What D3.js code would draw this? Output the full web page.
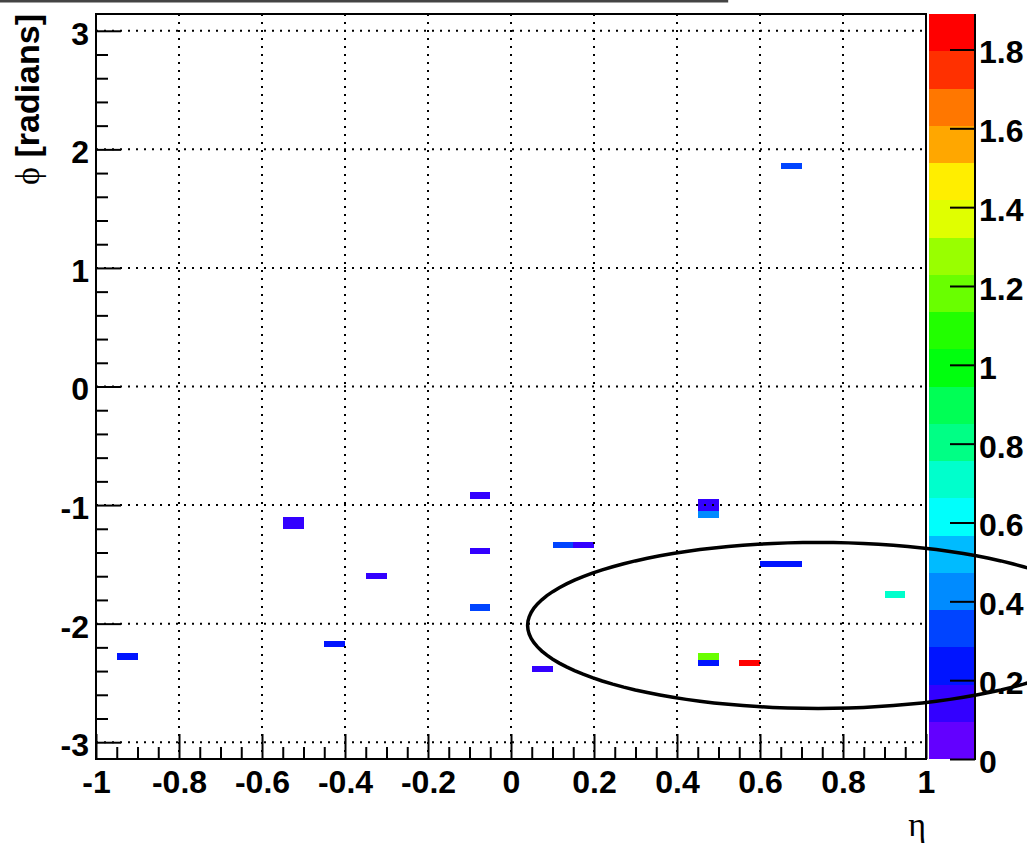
<!DOCTYPE html>
<html>
<head>
<meta charset="utf-8">
<script src="https://cdn.jsdelivr.net/npm/d3@7"></script>
<style>
  body { margin: 0; background: #fff; }
  svg { display: block; }
</style>
</head>
<body>
<svg id="chart" width="1036" height="849"></svg>
<script>
// Calorimeter cell energies in the eta-phi plane, with a jet cone of radius 0.7.
const etaTicks = [-1, -0.8, -0.6, -0.4, -0.2, 0, 0.2, 0.4, 0.6, 0.8, 1];
const etaTickLabels = ["-1", "-0.8", "-0.6", "-0.4", "-0.2", "0", "0.2", "0.4", "0.6", "0.8", "1"];
const phiTicks = [-3, -2, -1, 0, 1, 2, 3];
const phiTickLabels = ["-3", "-2", "-1", "0", "1", "2", "3"];
const zTicks = [0, 0.2, 0.4, 0.6, 0.8, 1, 1.2, 1.4, 1.6, 1.8];
const zTickLabels = ["0", "0.2", "0.4", "0.6", "0.8", "1", "1.2", "1.4", "1.6", "1.8"];

// Cell centres (eta, phi), phi extent of each cell and deposited value
const etaBinWidth = 0.05;
const cellEta  = [-0.925, -0.525, -0.425, -0.325, -0.075, -0.075, -0.075, 0.075, 0.125, 0.175,
                  0.475, 0.475, 0.475, 0.475, 0.575, 0.625, 0.675, 0.675, 0.925];
const cellPhi  = [-2.277, -1.151, -2.172, -1.598, -0.919, -1.387, -1.864, -2.383, -1.337, -1.337,
                  -0.9995, -1.0795, -2.277, -2.332, -2.332, -1.497, -1.497, 1.860, -1.754];
const cellDPhi = [0.055, 0.10, 0.055, 0.055, 0.055, 0.055, 0.055, 0.055, 0.055, 0.055,
                  0.10, 0.059, 0.055, 0.055, 0.055, 0.055, 0.055, 0.055, 0.055];
const cellE    = [0.24, 0.14, 0.23, 0.15, 0.13, 0.14, 0.34, 0.15, 0.32, 0.16,
                  0.17, 0.44, 1.17, 0.22, 1.89, 0.24, 0.25, 0.36, 0.72];

// Jet cone
const coneEta = 0.74;
const conePhi = -2.015;
const coneR = 0.7;

const nContours = 20;
const zMax = d3.max(cellE);

const svg = d3.select("#chart");
svg.append("rect").attr("width", 1036).attr("height", 849).attr("fill", "#fff");

const x = d3.scaleLinear().domain([-1, 1]).range([96, 926]);
const y = d3.scaleLinear().domain([-Math.PI, Math.PI]).range([759, 14]);
const z = d3.scaleLinear().domain([0, zMax]).range([759, 14]);

// Spectrum palette violet -> red, one colour per contour band
function bandColor(i) {
  const idx = Math.floor((i + 0.99) * 50 / nContours);
  const hue = 280 - (idx + 1) * 5.6;
  return d3.hsl(hue, 1, 0.5).formatHex();
}
function valueColor(v) {
  const band = Math.min(nContours - 1, Math.floor(v / (zMax / nContours)));
  return bandColor(band);
}

const labelFont = "'Liberation Sans', Arial, Helvetica, sans-serif";

// Title box remnant at the top edge
svg.append("path")
  .attr("d", "M0,1.2H727V0")
  .attr("fill", "none").attr("stroke", "#444").attr("stroke-width", 2.4);

// Cells
svg.append("clipPath").attr("id", "frameClip")
  .append("rect").attr("x", 96).attr("y", 14).attr("width", 830).attr("height", 745);

const cells = d3.range(cellE.length).map(i => ({
  eta: cellEta[i], phi: cellPhi[i], dphi: cellDPhi[i], e: cellE[i]
}));

svg.append("g").attr("clip-path", "url(#frameClip)")
  .selectAll("rect").data(cells).join("rect")
  .attr("x", d => x(d.eta - etaBinWidth / 2))
  .attr("width", d => x(d.eta + etaBinWidth / 2) - x(d.eta - etaBinWidth / 2))
  .attr("y", d => y(d.phi + d.dphi / 2))
  .attr("height", d => y(d.phi - d.dphi / 2) - y(d.phi + d.dphi / 2))
  .attr("fill", d => valueColor(d.e))
  .attr("shape-rendering", "crispEdges");

// Dotted grid
const grid = svg.append("g")
  .attr("stroke", "#000").attr("stroke-width", 2).attr("stroke-dasharray", "2 6");
grid.selectAll(".gx").data(etaTicks.filter(t => t > -1 && t < 1)).join("line")
  .attr("x1", d => x(d)).attr("x2", d => x(d))
  .attr("y1", 14).attr("y2", 759);
grid.selectAll(".gy").data(phiTicks).join("line")
  .attr("x1", 96).attr("x2", 926)
  .attr("y1", d => y(d)).attr("y2", d => y(d));

// Axes: minor and major ticks
const etaMinor = d3.range(-1, 1.0001, 0.05).map(v => +v.toFixed(2)).filter(v => !etaTicks.some(t => Math.abs(t - v) < 1e-6));
const phiMinor = d3.range(-3.2, 3.2001, 0.2).map(v => +v.toFixed(2))
  .filter(v => v > -Math.PI && v < Math.PI && !phiTicks.some(t => Math.abs(t - v) < 1e-6));

function styleAxis(g) {
  g.select(".domain").remove();
  g.selectAll(".tick line").attr("stroke", "#000").attr("stroke-width", 2);
  g.selectAll("text")
    .attr("font-family", labelFont).attr("font-weight", "bold")
    .attr("font-size", 32).attr("fill", "#000");
}

svg.append("g").attr("transform", "translate(0,759)")
  .call(d3.axisBottom(x).tickValues(etaMinor).tickSizeInner(-12).tickSizeOuter(0).tickFormat(""))
  .call(styleAxis);
svg.append("g").attr("transform", "translate(0,759)")
  .call(d3.axisBottom(x).tickValues(etaTicks).tickSizeInner(-25).tickSizeOuter(0).tickPadding(11)
    .tickFormat((d, i) => etaTickLabels[i]))
  .call(styleAxis);

svg.append("g").attr("transform", "translate(96,0)")
  .call(d3.axisLeft(y).tickValues(phiMinor).tickSizeInner(-12).tickSizeOuter(0).tickFormat(""))
  .call(styleAxis);
svg.append("g").attr("transform", "translate(96,0)")
  .call(d3.axisLeft(y).tickValues(phiTicks).tickSizeInner(-25).tickSizeOuter(0).tickPadding(7)
    .tickFormat((d, i) => phiTickLabels[i]))
  .call(styleAxis)
  .call(g => g.selectAll("text").attr("dy", "0.42em"));

// Frame
svg.append("rect")
  .attr("x", 96).attr("y", 14).attr("width", 830).attr("height", 745)
  .attr("fill", "none").attr("stroke", "#000").attr("stroke-width", 2);

// Colour bar
const bands = d3.range(nContours);
svg.append("g").selectAll("rect").data(bands).join("rect")
  .attr("x", 929).attr("width", 46)
  .attr("y", i => z((i + 1) * zMax / nContours))
  .attr("height", i => z(i * zMax / nContours) - z((i + 1) * zMax / nContours))
  .attr("fill", i => bandColor(i))
  .attr("shape-rendering", "crispEdges");

svg.append("g").attr("transform", "translate(975,0)")
  .call(d3.axisRight(z).tickValues(zTicks).tickSizeInner(-25).tickSizeOuter(0).tickPadding(4)
    .tickFormat((d, i) => zTickLabels[i]))
  .call(g => {
    g.select(".domain").remove();
    g.selectAll(".tick line").attr("stroke", "#000").attr("stroke-width", 2);
    g.selectAll("text")
      .attr("font-family", labelFont).attr("font-weight", "bold")
      .attr("font-size", 32).attr("fill", "#000").attr("dy", "0.42em");
  });
svg.append("line")
  .attr("x1", 975).attr("x2", 975).attr("y1", 14).attr("y2", 760)
  .attr("stroke", "#000").attr("stroke-width", 2);

// Jet cone outline
svg.append("clipPath").attr("id", "padClip")
  .append("rect").attr("x", 0).attr("y", 0).attr("width", 1027).attr("height", 849);
const conePts = d3.range(0, 361, 3).map(a => {
  const t = a * Math.PI / 180;
  return [coneEta + coneR * Math.cos(t), conePhi + coneR * Math.sin(t)];
});
svg.append("path")
  .attr("clip-path", "url(#padClip)")
  .attr("d", d3.line().x(d => x(d[0])).y(d => y(d[1]))(conePts))
  .attr("fill", "none").attr("stroke", "#000").attr("stroke-width", 3.5);

// Axis titles
svg.append("text")
  .attr("x", 926).attr("y", 836).attr("text-anchor", "end")
  .attr("font-family", "'Liberation Serif', 'DejaVu Serif', serif")
  .attr("font-size", 34).attr("fill", "#000")
  .text("η");

const yTitle = svg.append("text")
  .attr("transform", "translate(39,14) rotate(-90)")
  .attr("text-anchor", "end").attr("fill", "#000").attr("font-size", 34);
yTitle.append("tspan")
  .attr("font-family", "'Liberation Serif', 'DejaVu Serif', serif")
  .text("ϕ");
yTitle.append("tspan")
  .attr("font-family", labelFont).attr("font-weight", "bold")
  .text(" [radians]");
</script>
</body>
</html>
